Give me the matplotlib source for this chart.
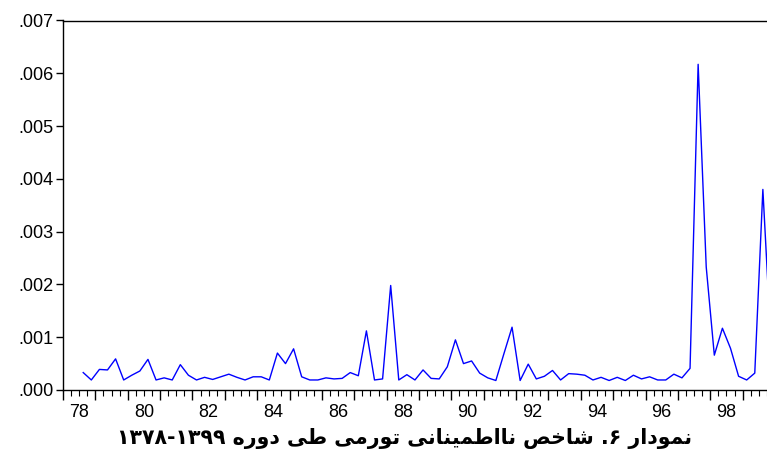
import matplotlib
matplotlib.use("Agg")
import matplotlib.pyplot as plt
from matplotlib.ticker import MultipleLocator, FuncFormatter, NullFormatter
import numpy as np

# quarterly inflation uncertainty, 1378Q3 .. 1399Q4 (values x 1e-3)
first_year = 78
first_quarter = 3
uncertainty = [0.33, 0.19, 0.39, 0.38, 0.59, 0.19, 0.28, 0.36, 0.58, 0.19,
               0.23, 0.19, 0.48, 0.28, 0.19, 0.24, 0.20, 0.25, 0.30, 0.24,
               0.19, 0.25, 0.25, 0.19, 0.70, 0.50, 0.78, 0.25, 0.19, 0.19,
               0.23, 0.21, 0.22, 0.33, 0.27, 1.12, 0.19, 0.21, 1.98, 0.19,
               0.29, 0.19, 0.38, 0.22, 0.21, 0.44, 0.95, 0.50, 0.55, 0.32,
               0.23, 0.18, 0.69, 1.19, 0.18, 0.49, 0.21, 0.26, 0.37, 0.19,
               0.31, 0.30, 0.28, 0.19, 0.24, 0.18, 0.24, 0.18, 0.28, 0.21,
               0.25, 0.19, 0.19, 0.30, 0.23, 0.41, 6.17, 2.33, 0.66, 1.17,
               0.79, 0.26, 0.19, 0.32, 3.80, 0.90]
year_labels = ["78", "80", "82", "84", "86", "88", "90", "92", "94", "96", "98"]
title_words = ["نمودار", "۶.", "شاخص", "نااطمینانی", "تورمی", "طی", "دوره", "۱۳۷۸-۱۳۹۹"]

# crude persian shaping (matplotlib has no arabic text layout)
forms = {  # isolated, final, initial, medial
    "ا": (0xFE8D, 0xFE8E, None, None), "د": (0xFEA9, 0xFEAA, None, None),
    "ر": (0xFEAD, 0xFEAE, None, None), "و": (0xFEED, 0xFEEE, None, None),
    "ن": (0xFEE5, 0xFEE6, 0xFEE7, 0xFEE8), "م": (0xFEE1, 0xFEE2, 0xFEE3, 0xFEE4),
    "ش": (0xFEB5, 0xFEB6, 0xFEB7, 0xFEB8), "خ": (0xFEA5, 0xFEA6, 0xFEA7, 0xFEA8),
    "ص": (0xFEB9, 0xFEBA, 0xFEBB, 0xFEBC), "ط": (0xFEC1, 0xFEC2, 0xFEC3, 0xFEC4),
    "ت": (0xFE95, 0xFE96, 0xFE97, 0xFE98), "ه": (0xFEE9, 0xFEEA, 0xFEEB, 0xFEEC),
    "ی": (0xFBFC, 0xFBFD, 0xFBFE, 0xFBFF),
}

def shape(word):
    if not any(c in forms for c in word):
        return word[::-1] if word.endswith(".") else word
    out = []
    for i, c in enumerate(word):
        f = forms[c]
        prev_joins = i > 0 and forms[word[i-1]][2] is not None
        next_joins = i < len(word) - 1 and f[2] is not None
        if prev_joins and next_joins:
            out.append(chr(f[3]))
        elif prev_joins:
            out.append(chr(f[1]))
        elif next_joins:
            out.append(chr(f[2]))
        else:
            out.append(chr(f[0]))
    return "".join(out[::-1])

title = " ".join(shape(w) for w in title_words[::-1])

x = np.array([first_year + (first_quarter - 1 + i + 0.5) / 4 for i in range(len(uncertainty))])
y = np.array(uncertainty) / 1000

plt.rcParams["font.family"] = ["Liberation Sans", "DejaVu Sans"]
fig = plt.figure(figsize=(7.67, 4.54), dpi=100)
ax = fig.add_axes([63/767, 64/454, 712/767, 369.5/454])
ax.plot(x, y, color="#0000FF", lw=1.0)

ax.set_xlim(78, 100)
ax.set_ylim(0, 0.007)
ax.spines["right"].set_visible(False)
for s in ["left", "bottom", "top"]:
    ax.spines[s].set_linewidth(1.0)

ax.xaxis.set_major_locator(MultipleLocator(1))
ax.xaxis.set_minor_locator(MultipleLocator(0.25))
ax.xaxis.set_major_formatter(NullFormatter())
ax.tick_params(axis="x", which="major", length=7, width=1.0, direction="out")
ax.tick_params(axis="x", which="minor", length=4, width=0.8, direction="out")
for lab in year_labels:
    ax.text(int(lab) + 0.5, -0.00026, lab, ha="center", va="top", fontsize=13)

ax.yaxis.set_major_locator(MultipleLocator(0.001))
ax.yaxis.set_major_formatter(FuncFormatter(lambda v, p: f"{v:.3f}".lstrip("0")))
ax.tick_params(axis="y", length=5, width=1.0, direction="out", labelsize=13, pad=2)

fig.text(0.527, 0.035, title, ha="center", va="center", fontsize=14.8,
         fontweight="bold", family=["DejaVu Sans"])

fig.savefig("out.png", dpi=100)
